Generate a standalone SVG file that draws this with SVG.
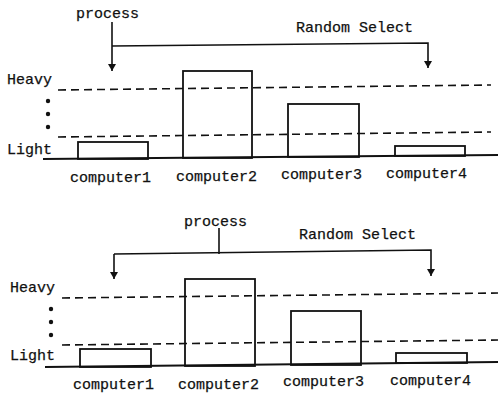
<svg xmlns="http://www.w3.org/2000/svg" width="498" height="396" viewBox="0 0 498 396">
  <style>
    text { font-family: "Liberation Mono", "Courier New", monospace; font-size: 15px; fill: #111; stroke: #111; stroke-width: 0.25; }
    .bar { fill: none; stroke: #111; stroke-width: 1.8; }
    .base { stroke: #111; stroke-width: 2.2; fill: none; }
    .level { stroke: #111; stroke-width: 1.6; stroke-dasharray: 8 5; fill: none; }
    .wire { stroke: #111; stroke-width: 1.6; fill: none; }
    .dot { fill: #111; }
  </style>
  <defs>
    <marker id="arrow" markerWidth="8" markerHeight="10" refX="7" refY="4" orient="auto" markerUnits="userSpaceOnUse">
      <path d="M0,0 L7,4 L0,8 Z" fill="#111"/>
    </marker>
  </defs>
  <rect width="498" height="396" fill="#fff"/>

  <!-- upper chart: process sent to the first computer -->
  <g id="top-axis">
    <text x="7" y="84">Heavy</text>
    <text x="7" y="154">Light</text>
    <circle class="dot" cx="48" cy="101" r="2.2"/>
    <circle class="dot" cx="48" cy="114" r="2.2"/>
    <circle class="dot" cx="48" cy="127" r="2.2"/>
    <line class="level" x1="58" y1="90" x2="491" y2="85"/>
    <line class="level" x1="58" y1="137" x2="491" y2="132"/>
    <line class="base" x1="43" y1="159" x2="498" y2="155"/>
  </g>
  <g id="top-computer1">
    <rect class="bar" x="78" y="142" width="70" height="17"/>
    <text x="70" y="182">computer1</text>
  </g>
  <g id="top-computer2">
    <rect class="bar" x="183" y="71" width="69" height="87"/>
    <text x="176" y="181">computer2</text>
  </g>
  <g id="top-computer3">
    <rect class="bar" x="288" y="104" width="71" height="53"/>
    <text x="281" y="179">computer3</text>
  </g>
  <g id="top-computer4">
    <rect class="bar" x="395" y="146" width="70" height="10"/>
    <text x="386" y="178">computer4</text>
  </g>
  <g id="top-labels">
    <text x="76" y="18">process</text>
    <text x="296" y="32">Random Select</text>
  </g>

  <!-- lower chart: process sent to the last computer -->
  <g id="bottom-axis">
    <text x="10" y="292">Heavy</text>
    <text x="10" y="360">Light</text>
    <circle class="dot" cx="51" cy="309" r="2.2"/>
    <circle class="dot" cx="51" cy="322" r="2.2"/>
    <circle class="dot" cx="51" cy="335" r="2.2"/>
    <line class="level" x1="62" y1="298" x2="498" y2="293"/>
    <line class="level" x1="62" y1="345" x2="498" y2="340"/>
    <line class="base" x1="45" y1="367" x2="498" y2="362"/>
  </g>
  <g id="bottom-computer1">
    <rect class="bar" x="80" y="349" width="71" height="18"/>
    <text x="73" y="389">computer1</text>
  </g>
  <g id="bottom-computer2">
    <rect class="bar" x="185" y="279" width="70" height="87"/>
    <text x="178" y="389">computer2</text>
  </g>
  <g id="bottom-computer3">
    <rect class="bar" x="291" y="311" width="70" height="54"/>
    <text x="283" y="386">computer3</text>
  </g>
  <g id="bottom-computer4">
    <rect class="bar" x="396" y="353" width="71" height="10"/>
    <text x="390" y="385">computer4</text>
  </g>
  <g id="bottom-labels">
    <text x="184" y="226">process</text>
    <text x="299" y="239">Random Select</text>
  </g>

  <g id="connectors">
    <!-- upper: process drops to computer1, branch to computer4 -->
    <path class="wire" d="M112,22 L112,71" marker-end="url(#arrow)"/>
    <path class="wire" d="M112,46 L428,43 L428,68" marker-end="url(#arrow)"/>
    <!-- lower: process splits to both ends -->
    <path class="wire" d="M219,228 L219,254"/>
    <path class="wire" d="M114,254 L431,250 L431,276" marker-end="url(#arrow)"/>
    <path class="wire" d="M114,254 L114,279" marker-end="url(#arrow)"/>
  </g>
</svg>
